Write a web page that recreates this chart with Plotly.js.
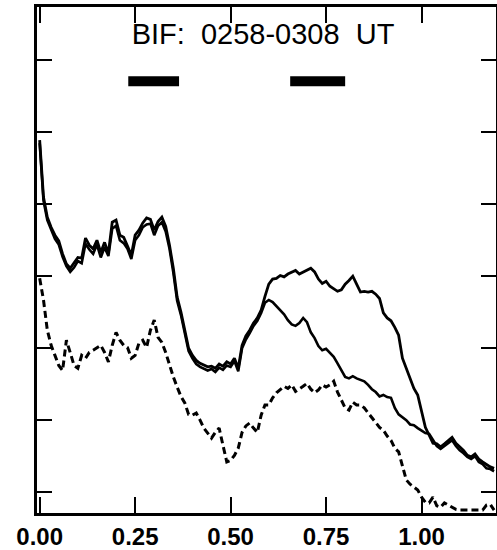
<!DOCTYPE html>
<html>
<head>
<meta charset="utf-8">
<script src="https://cdn.plot.ly/plotly-3.0.1.min.js"></script>
<style>html,body{margin:0;padding:0;background:#fff;}#chart{width:497px;height:550px;}</style>
</head>
<body>
<div id="chart"></div>
<script>
// Position along the scan (x grid, step 0.01)
const xStart = 0.0;
const xStep = 0.01;
const nPoints = 120;

// Upper solid curve
const upperSolid = [4.89,4.10,3.82,3.68,3.57,3.49,3.31,3.17,3.11,3.18,
  3.26,3.25,3.53,3.43,3.38,3.50,3.33,3.47,3.32,3.75,
  3.78,3.57,3.54,3.42,3.29,3.57,3.64,3.74,3.81,3.79,
  3.64,3.76,3.82,3.69,3.43,3.11,2.71,2.50,2.25,2.00,
  1.90,1.83,1.79,1.76,1.74,1.75,1.72,1.78,1.75,1.81,
  1.78,1.86,1.72,2.04,2.17,2.25,2.35,2.42,2.53,2.72,
  2.89,2.96,2.97,3.01,2.99,3.03,3.06,3.08,3.03,3.06,
  3.08,3.11,3.06,2.96,2.90,2.93,2.86,2.83,2.79,2.81,
  2.89,2.94,3.00,2.89,2.78,2.79,2.78,2.79,2.75,2.69,
  2.49,2.42,2.38,2.29,2.18,1.86,1.72,1.60,1.44,1.35,
  1.10,0.90,0.79,0.68,0.67,0.63,0.67,0.72,0.76,0.68,
  0.63,0.58,0.51,0.49,0.53,0.46,0.42,0.38,0.35,0.33];

// Middle solid curve
const middleSolid = [4.85,4.05,3.78,3.64,3.52,3.44,3.27,3.14,3.06,3.12,
  3.21,3.18,3.45,3.37,3.31,3.44,3.26,3.40,3.28,3.66,
  3.70,3.50,3.46,3.38,3.24,3.50,3.57,3.68,3.72,3.73,
  3.57,3.70,3.75,3.62,3.38,3.05,2.66,2.46,2.21,1.96,
  1.86,1.78,1.74,1.71,1.69,1.71,1.67,1.73,1.70,1.76,
  1.74,1.82,1.68,2.00,2.12,2.21,2.31,2.38,2.49,2.63,
  2.67,2.64,2.58,2.53,2.47,2.39,2.33,2.31,2.35,2.42,
  2.36,2.22,2.14,2.03,1.97,1.99,1.93,1.88,1.79,1.69,
  1.60,1.58,1.61,1.58,1.56,1.54,1.49,1.43,1.39,1.33,
  1.35,1.32,1.31,1.17,1.08,1.04,1.00,0.94,0.93,0.89,
  0.85,0.82,0.81,0.72,0.64,0.60,0.64,0.68,0.72,0.64,
  0.58,0.54,0.49,0.46,0.50,0.42,0.39,0.33,0.32,0.29];

// Lower dashed curve
const lowerDashed = [2.97,2.67,2.25,2.04,1.90,1.76,1.69,2.11,1.94,1.76,
  1.72,1.90,1.86,1.94,1.97,2.01,2.04,1.94,1.81,2.04,
  2.22,2.11,2.04,2.01,1.86,1.90,2.07,2.11,2.01,2.25,
  2.39,2.15,2.08,1.94,1.76,1.60,1.46,1.33,1.24,1.08,
  1.07,1.10,1.00,0.89,0.82,0.75,0.83,0.89,0.65,0.42,
  0.44,0.51,0.61,0.83,0.92,0.96,0.89,0.83,1.07,1.21,
  1.21,1.31,1.38,1.42,1.47,1.44,1.49,1.40,1.43,1.47,
  1.51,1.43,1.38,1.42,1.49,1.46,1.49,1.54,1.39,1.28,
  1.17,1.14,1.25,1.21,1.21,1.17,1.10,1.04,0.97,0.90,
  0.86,0.78,0.72,0.61,0.56,0.38,0.17,0.11,0.07,0.03,
  -0.07,-0.14,-0.15,-0.07,-0.19,-0.21,-0.15,-0.18,-0.22,-0.24,
  -0.25,-0.25,-0.26,-0.26,-0.26,-0.25,-0.25,-0.18,-0.17,-0.25];

// Interval bars (top)
const barStarts = [0.232, 0.656];
const barEnds = [0.365, 0.800];
const barLevel = 5.71;

const xTickVals = [0, 0.25, 0.5, 0.75, 1.0];
const xTickText = ["0.00", "0.25", "0.50", "0.75", "1.00"];
const yTickVals = [0, 1, 2, 3, 4, 5, 6];
const titleText = "BIF:  0258-0308  UT";

const xs = [];
for (let i = 0; i < nPoints; i++) xs.push(+(xStart + i * xStep).toFixed(2));

const traces = [
  {x: xs, y: upperSolid, mode: 'lines', line: {color: '#000', width: 2.8}, hoverinfo: 'skip'},
  {x: xs, y: middleSolid, mode: 'lines', line: {color: '#000', width: 2.6}, hoverinfo: 'skip'},
  {x: xs, y: lowerDashed, mode: 'lines', line: {color: '#000', width: 3, dash: '7px,4px'}, hoverinfo: 'skip'}
];
for (let k = 0; k < barStarts.length; k++) {
  traces.push({x: [barStarts[k], barEnds[k]], y: [barLevel, barLevel], mode: 'lines',
    line: {color: '#000', width: 10}, hoverinfo: 'skip'});
}

const layout = {
  width: 497, height: 550,
  margin: {l: 37, r: 1, t: 7, b: 37},
  paper_bgcolor: '#fff', plot_bgcolor: '#fff',
  showlegend: false,
  font: {family: 'Liberation Sans, Arial, sans-serif', color: '#000'},
  title: {text: titleText, x: 263/497, xref: 'container', y: 1 - 34/550, yref: 'container',
    xanchor: 'center', yanchor: 'middle', font: {size: 29, color: '#000', family: 'Liberation Sans, Arial, sans-serif'}},
  xaxis: {range: [-0.007, 1.195], tickvals: xTickVals, ticktext: xTickText, ticks: 'inside', ticklen: 16,
    tickwidth: 2, tickcolor: '#000', showline: true, linewidth: 3, linecolor: '#000', mirror: 'ticks',
    showgrid: false, zeroline: false, fixedrange: true,
    tickfont: {size: 24, color: '#000', weight: 'bold', family: 'Liberation Sans, Arial, sans-serif'}},
  yaxis: {range: [-0.29, 6.74], tickvals: yTickVals, showticklabels: false, ticks: 'inside', ticklen: 15,
    tickwidth: 2, tickcolor: '#000', showline: true, linewidth: 3, linecolor: '#000', mirror: 'ticks',
    showgrid: false, zeroline: false, fixedrange: true}
};

Plotly.newPlot('chart', traces, layout, {displayModeBar: false, staticPlot: true});
</script>
</body>
</html>
